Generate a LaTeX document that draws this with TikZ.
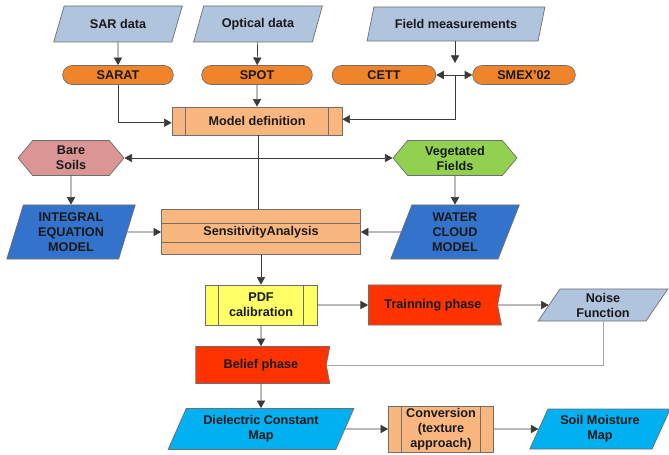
\documentclass[tikz,border=0pt]{standalone}
\usepackage{fontspec}
\setmainfont{Liberation Sans}
\usetikzlibrary{shapes.geometric, shapes.misc, shapes.symbols, arrows.meta, positioning, calc}
\definecolor{grayC}{HTML}{6E6E6E}
\definecolor{lineC}{HTML}{3A3A3A}
\definecolor{steelC}{HTML}{B0C4DE}
\definecolor{orangeC}{HTML}{F0842A}
\definecolor{peachC}{HTML}{F9B77F}
\definecolor{pinkC}{HTML}{D99694}
\definecolor{greenC}{HTML}{92D050}
\definecolor{blueC}{HTML}{3373CC}
\definecolor{yellowC}{HTML}{FFFF66}
\definecolor{redC}{HTML}{FF3300}
\definecolor{cyanC}{HTML}{00B0F0}
\tikzset{
  base/.style={draw=grayC, line width=0.6pt, align=center, inner sep=1pt, text=black!90, font=\bfseries\fontsize{10.8}{12.8}\selectfont},
  ndData/.style={base, trapezium, trapezium left angle=64, trapezium right angle=116, trapezium stretches=true, fill=steelC},
  ndPill/.style={base, rounded rectangle, fill=orangeC, minimum height=0.57cm},
  ndProc/.style={base, rectangle, fill=peachC, path picture={
      \draw[grayC, line width=0.6pt] ([xshift=0.4cm]path picture bounding box.north west) -- ([xshift=0.4cm]path picture bounding box.south west)
        ([xshift=-0.4cm]path picture bounding box.north east) -- ([xshift=-0.4cm]path picture bounding box.south east);}},
  ndBand/.style={base, rectangle, fill=peachC, path picture={
      \draw[grayC, line width=0.6pt] ([yshift=-0.42cm]path picture bounding box.north west) -- ([yshift=-0.42cm]path picture bounding box.north east)
        ([yshift=0.36cm]path picture bounding box.south west) -- ([yshift=0.36cm]path picture bounding box.south east);}},
  ndHex/.style={base, signal, signal to=west and east, signal pointer angle=100, minimum height=1.05cm},
  ndFlag/.style={base, signal, signal to=nowhere, signal from=east, signal pointer angle=158, fill=redC},
  arw/.style={-{Triangle[length=6.5pt, width=7pt]}, line width=0.6pt, draw=lineC},
  arwB/.style={{Triangle[length=6.5pt, width=7pt]}-{Triangle[length=6.5pt, width=7pt]}, line width=0.6pt, draw=lineC},
  ln/.style={line width=0.6pt, draw=lineC}
}
\begin{document}
\begin{tikzpicture}[x=0.03cm, y=-0.03cm]
  \useasboundingbox (0,0) rectangle (669,455);

  % -- inputs --
  \node[ndData, minimum width=3.87cm, minimum height=1.08cm] (sar) at (118,24) {SAR data};
  \node[ndData, minimum width=3.87cm, minimum height=1.08cm] (optical) at (258,24) {Optical data};
  \node[ndData, minimum width=5.34cm, minimum height=1.02cm, trapezium left angle=66, trapezium right angle=114] (field) at (456,24) {Field measurements};

  \node[ndPill, minimum width=3.39cm] (sarat) at (118,75) {SARAT};
  \node[ndPill, minimum width=3.39cm] (spot) at (257,75) {SPOT};
  \node[ndPill, minimum width=3.18cm] (cett) at (384,75) {CETT};
  \node[ndPill, minimum width=3.15cm] (smex) at (524,75) {SMEX'02};
  \coordinate (fjtop) at (455,63);
  \coordinate (fj) at (455,75);

  \node[ndProc, minimum width=5.1cm, minimum height=0.84cm] (modeldef) at (257,121) {Model definition};

  % -- models --
  \node[ndHex, fill=pinkC, minimum width=3.18cm] (bare) at (71,158) {Bare\\Soils};
  \node[ndHex, fill=greenC, minimum width=3.72cm] (veg) at (455,158) {Vegetated\\Fields};
  \node[ndData, fill=blueC, minimum width=3.87cm, minimum height=1.62cm, trapezium left angle=74, trapezium right angle=106] (iem) at (71,232) {INTEGRAL\\EQUATION\\MODEL};
  \node[ndBand, minimum width=5.97cm, minimum height=1.35cm] (sens) at (261,232) {SensitivityAnalysis};
  \node[ndData, fill=blueC, minimum width=3.87cm, minimum height=1.62cm, trapezium left angle=74, trapezium right angle=106] (water) at (455,232) {WATER\\CLOUD\\MODEL};

  % -- calibration --
  \node[ndProc, fill=yellowC, minimum width=3.36cm, minimum height=1.2cm] (pdf) at (261,305) {PDF\\calibration};
  \node[ndFlag, minimum width=3.99cm, minimum height=1.2cm] (train) at (433,305) {Trainning phase};
  \node[ndData, minimum width=3.9cm, minimum height=0.96cm, trapezium left angle=62, trapezium right angle=118] (noise) at (603,305) {Noise\\Function};
  \node[ndFlag, minimum width=4.02cm, minimum height=1.11cm] (belief) at (261,365) {Belief phase};

  % -- outputs --
  \node[ndData, fill=cyanC, minimum width=5.58cm, minimum height=1.23cm] (diel) at (261,429) {Dielectric Constant\\Map};
  \node[ndProc, minimum width=3.15cm, minimum height=1.38cm] (conv) at (441,429) {Conversion\\(texture\\approach)};
  \node[ndData, fill=cyanC, minimum width=4.23cm, minimum height=1.2cm] (soil) at (600,429) {Soil Moisture\\Map};

  % -- connectors --
  \draw[arw] (sar) -- (sarat);
  \draw[arw] (optical) -- (spot);
  \draw[arw] (field.south -| fjtop) -- (fjtop);
  \draw[arw] (fj) -- (cett.east);
  \draw[arw] (fj) -- (smex.west);
  \draw[arw] (fj) |- ([yshift=1.5]modeldef.east);
  \draw[arw] (sarat) |- ([yshift=-1.5]modeldef.west);
  \draw[arw] (spot) -- (modeldef);
  \draw[ln] ([xshift=1]modeldef.south) -- ([xshift=1]modeldef.south |- sens.north);
  \draw[arwB] (bare.east) -- (veg.west);
  \draw[arw] (bare) -- (iem);
  \draw[arw] (veg) -- (water);
  \draw[arw] (iem) -- (sens);
  \draw[arw] (water) -- (sens);
  \draw[arw] (sens) -- (pdf);
  \draw[arw] (pdf) -- (train);
  \draw[arw] (train) -- (noise);
  \draw[line width=0.6pt, draw=gray!70] (noise.south) |- (belief.east);
  \draw[arw] (pdf) -- (belief);
  \draw[arw] (belief) -- (diel);
  \draw[arw] (diel) -- (conv);
  \draw[arw] (conv) -- (soil);
\end{tikzpicture}
\end{document}
